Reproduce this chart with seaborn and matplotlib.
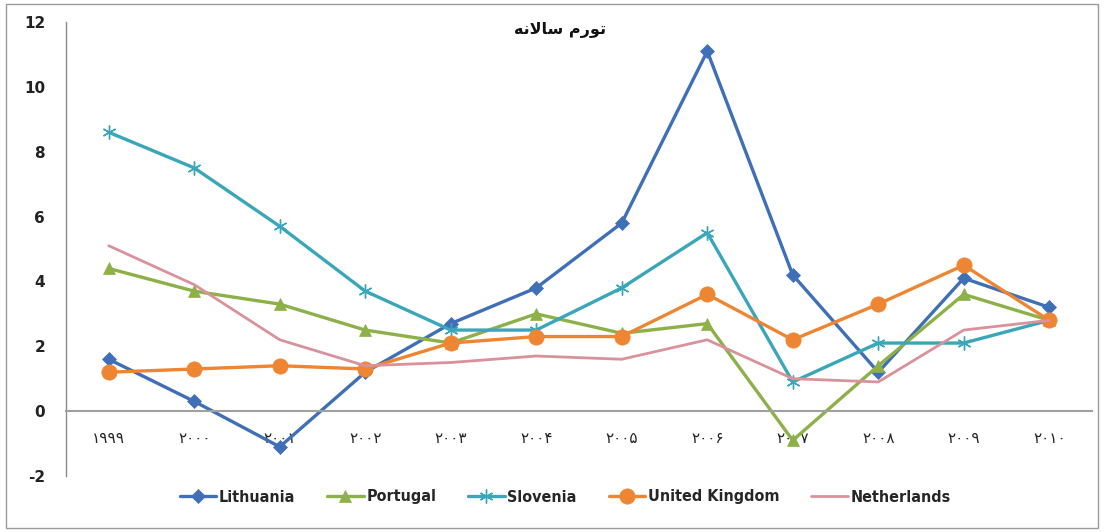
import numpy as np
import pandas as pd
import matplotlib
matplotlib.use("Agg")
import matplotlib.pyplot as plt
import seaborn as sns
from matplotlib.patches import Rectangle
from matplotlib.font_manager import FontProperties

# ---------------- data ----------------
years = ["1999", "2000", "2001", "2002", "2003", "2004",
         "2005", "2006", "2007", "2008", "2009", "2010"]
lithuania = [1.6, 0.3, -1.1, 1.2, 2.7, 3.8, 5.8, 11.1, 4.2, 1.2, 4.1, 3.2]
portugal = [4.4, 3.7, 3.3, 2.5, 2.1, 3.0, 2.4, 2.7, -0.9, 1.4, 3.6, 2.8]
slovenia = [8.6, 7.5, 5.7, 3.7, 2.5, 2.5, 3.8, 5.5, 0.9, 2.1, 2.1, 2.8]
united_kingdom = [1.2, 1.3, 1.4, 1.3, 2.1, 2.3, 2.3, 3.6, 2.2, 3.3, 4.5, 2.8]
netherlands = [5.1, 3.9, 2.2, 1.4, 1.5, 1.7, 1.6, 2.2, 1.0, 0.9, 2.5, 2.8]
series_names = ["Lithuania", "Portugal", "Slovenia", "United Kingdom", "Netherlands"]
title_text = "تورم سالانه"
y_ticks = [-2, 0, 2, 4, 6, 8, 10, 12]

# ------------- helpers -------------
def persian_digits(s):
    return s.translate(str.maketrans("0123456789", "۰۱۲۳۴۵۶۷۸۹"))

# minimal Arabic shaping (isolated, final, initial, medial)
FORMS = {
    "ا": (0xFE8D, 0xFE8E, None, None),
    "ت": (0xFE95, 0xFE96, 0xFE97, 0xFE98),
    "و": (0xFEED, 0xFEEE, None, None),
    "ر": (0xFEAD, 0xFEAE, None, None),
    "م": (0xFEE1, 0xFEE2, 0xFEE3, 0xFEE4),
    "س": (0xFEB1, 0xFEB2, 0xFEB3, 0xFEB4),
    "ل": (0xFEDD, 0xFEDE, 0xFEDF, 0xFEE0),
    "ن": (0xFEE5, 0xFEE6, 0xFEE7, 0xFEE8),
    "ه": (0xFEE9, 0xFEEA, 0xFEEB, 0xFEEC),
    "LA": (0xFEFB, 0xFEFC, None, None),
}

def shape_word(word):
    toks = []
    i = 0
    while i < len(word):
        if word[i] == "ل" and i + 1 < len(word) and word[i + 1] == "ا":
            toks.append("LA")
            i += 2
        else:
            toks.append(word[i])
            i += 1
    out = []
    for k, t in enumerate(toks):
        f = FORMS.get(t)
        if f is None:
            out.append(t)
            continue
        prev_j = k > 0 and FORMS.get(toks[k - 1]) is not None and FORMS[toks[k - 1]][2] is not None
        next_j = f[2] is not None and k + 1 < len(toks) and FORMS.get(toks[k + 1]) is not None
        if prev_j and next_j:
            cp = f[3]
        elif prev_j:
            cp = f[1]
        elif next_j:
            cp = f[2]
        else:
            cp = f[0]
        out.append(chr(cp))
    return "".join(out)

def shape_rtl(text):
    return " ".join(shape_word(w) for w in text.split(" "))[::-1]

# ------------- styling -------------
sns.set_theme(style="white")
plt.rcParams["font.family"] = ["DejaVu Sans"]

colors = ["#3F6FB6", "#8DB048", "#3AA6B9", "#EE8532", "#D9929B"]
markers = ["D", "^", (6, 2, 0), "o", None]
msizes = [7, 9, 10, 11, 0]
lwidths = [2.4, 2.4, 2.4, 2.4, 2.0]

values = [lithuania, portugal, slovenia, united_kingdom, netherlands]
pos = list(range(len(years)))

fig = plt.figure(figsize=(11.07, 5.32), dpi=100)
ax = fig.add_axes([66 / 1107, 1 - 476 / 532, (1092 - 66) / 1107, (476 - 22) / 532])

handles = []
for name, vals, c, m, ms, lw in zip(series_names, values, colors, markers, msizes, lwidths):
    df = pd.DataFrame({"x": pos, "y": vals})
    sns.lineplot(data=df, x="x", y="y", ax=ax, color=c, linewidth=lw,
                 marker=m if m is not None else None, markersize=ms,
                 markeredgecolor=c, markerfacecolor=c,
                 markeredgewidth=1.0 if m == (6, 2, 0) else 0.5,
                 label=name, legend=False)
    handles.append(ax.lines[-1])

ax.set_xlim(-0.5, len(years) - 0.5)
ax.set_ylim(-2, 12)
ax.set_yticks(y_ticks)
ax.set_yticklabels([str(t) for t in y_ticks], fontsize=11, fontweight="bold", color="#222222")
ax.set_xticks(pos)
ax.set_xticklabels([persian_digits(y) for y in years], fontsize=10.5, color="#222222")
ax.set_xlabel("")
ax.set_ylabel("")

for s in ["top", "right"]:
    ax.spines[s].set_visible(False)
ax.spines["left"].set_color("#8a8a8a")
ax.spines["left"].set_linewidth(1.0)
ax.spines["bottom"].set_position(("data", 0))
ax.spines["bottom"].set_color("#a0a0a0")
ax.spines["bottom"].set_linewidth(1.5)
ax.tick_params(axis="x", length=0, pad=14)
ax.tick_params(axis="y", length=0, pad=15)
ax.grid(False)

fig.text(560 / 1107, 1 - 30 / 532, shape_rtl(title_text),
         ha="center", va="center", fontsize=11.5, fontweight="bold", color="#111111")

legend_font = FontProperties(family=["DejaVu Sans"], stretch="condensed",
                             weight="bold", size=11.5)
fig.legend(handles=handles, labels=series_names, loc="center",
           bbox_to_anchor=(565 / 1107, 1 - 497 / 532), ncol=5, frameon=False,
           prop=legend_font, handlelength=2.3, columnspacing=2.0, handletextpad=0.15)

fig.patches.append(Rectangle((6 / 1107, 4 / 532), 1092 / 1107, 1 - 8 / 532,
                             transform=fig.transFigure, fill=False,
                             edgecolor="#9a9a9a", linewidth=1.0))

fig.savefig("out.png", dpi=100)
